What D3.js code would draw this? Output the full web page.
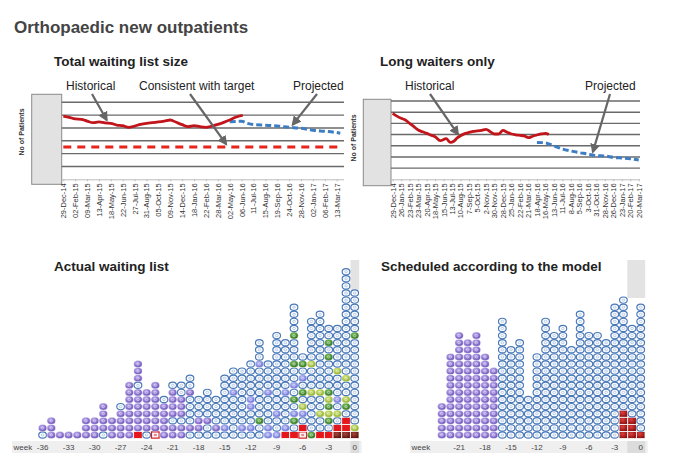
<!DOCTYPE html>
<html>
<head>
<meta charset="utf-8">
<script src="https://cdn.jsdelivr.net/npm/d3@7"></script>
<style>
  body { margin: 0; background: #fff; }
  svg { font-family: "Liberation Sans", Arial, sans-serif; }
</style>
</head>
<body>
<svg id="chart" width="687" height="472"></svg>
<script>
// ---- Data ----

// Total waiting list size (x in tick steps, 5 weeks per tick)
const totalTicks = ['29-Dec-14', '02-Feb-15', '09-Mar-15', '13-Apr-15', '18-May-15', '22-Jun-15',
    '27-Jul-15', '31-Aug-15', '05-Oct-15', '09-Nov-15', '14-Dec-15', '18-Jan-16', '22-Feb-16',
    '28-Mar-16', '02-May-16', '06-Jun-16', '11-Jul-16', '15-Aug-16', '19-Sep-16', '24-Oct-16',
    '28-Nov-16', '02-Jan-17', '06-Feb-17', '13-Mar-17'];
const totalHistorical = [[0, 4.93], [0.5, 4.83], [1, 4.70], [1.5, 4.67], [2, 4.54], [2.5, 4.41],
    [3, 4.47], [3.5, 4.39], [4, 4.36], [4.5, 4.23], [5, 4.18], [5.5, 4.05], [6, 4.15], [6.5, 4.28],
    [7, 4.36], [7.5, 4.41], [8, 4.47], [8.5, 4.54], [9, 4.62], [9.5, 4.44], [10, 4.26], [10.5, 4.10],
    [11, 4.18], [11.5, 4.10], [12, 4.05], [12.5, 4.15], [13, 4.28], [13.5, 4.44], [14, 4.62],
    [14.5, 4.83], [15.1, 4.99]];
const totalProjected = [[14, 4.49], [15, 4.52], [15.5, 4.36], [16, 4.26], [17, 4.21], [18, 4.15],
    [19, 4.05], [20, 3.97], [21, 3.82], [22, 3.74], [23, 3.64], [23.3, 3.59]];
const totalTarget = 2.51;

// Long waiters only (x in tick steps, 4 weeks per tick)
const longTicks = ['29-Dec-14', '26-Jan-15', '23-Feb-15', '23-Mar-15', '20-Apr-15', '18-May-15',
    '15-Jun-15', '13-Jul-15', '10-Aug-15', '7-Sep-15', '5-Oct-15', '2-Nov-15', '30-Nov-15',
    '28-Dec-15', '25-Jan-16', '22-Feb-16', '21-Mar-16', '18-Apr-16', '16-May-16', '13-Jun-16',
    '11-Jul-16', '8-Aug-16', '5-Sep-16', '3-Oct-16', '31-Oct-16', '28-Nov-16', '26-Dec-16',
    '23-Jan-17', '20-Feb-17', '20-Mar-17'];
const longHistorical = [[0, 5.9], [0.5, 5.65], [1, 5.45], [1.5, 5.3], [2, 5.0], [2.5, 4.7],
    [3, 4.41], [3.5, 4.25], [4, 4.11], [4.5, 3.95], [5, 3.81], [5.6, 3.45], [6.3, 3.63], [6.8, 3.3],
    [7.2, 3.4], [7.6, 3.7], [8, 3.9], [8.5, 4.08], [9, 4.2], [9.5, 4.28], [10, 4.32], [10.5, 4.38],
    [11, 4.47], [11.5, 4.25], [12, 4.05], [12.5, 4.05], [13, 4.38], [13.5, 4.2], [14, 4.05],
    [14.5, 3.98], [15, 3.93], [15.5, 3.88], [16, 3.72], [16.5, 3.85], [17, 3.96], [17.5, 4.05],
    [18, 4.11], [18.4, 4.0]];
const longProjected = [[17, 3.3], [18, 3.26], [19, 2.98], [20, 2.71], [21, 2.53], [22, 2.38],
    [23, 2.26], [24, 2.11], [25, 2.08], [26, 1.96], [27, 1.9], [28, 1.84], [29, 1.72]];

// Dot columns, bottom-up. P purple, O open blue, B periwinkle, G green, Y lime,
// R red square, r open red square, D dark red square, K shaded red square
const actualFirstWeek = -36;
const actualColumns = [
    'OP', 'PPP', 'P', 'P', 'P', 'PPP', 'PPP', 'OPPPP', 'PPP', 'PPPPO',
    'PPPPPPPP', 'RPPPPPPOPPP', 'OPPPPPP', 'rPPPPPPP', 'PPPPPO', 'PPOPPPPO', 'PPOPPPOO',
    'OPOOOOPOO', 'OPPOOO', 'OOPOOOO', 'OPOOOO', 'OBOOOOOOO', 'OOOOOOBOOO', 'OBOOOOOOOO',
    'OBOOBBOOOOO', 'OOGOOOOOOOBOOO', 'BBOOOOBOOOO', 'BOOBOOOOOOOOOOO', 'RBOOOOBOOOOOOO',
    'ROGBOGOBOOGOOOGOOOO', 'rROBYOGOBOGO', 'GOOOOOYOOOYOOOOOO', 'ROOYOOYOOOOOOOOOOO',
    'ROGYGYGOOOOGOGOO', 'DROYOBOOOYOOOOOO', 'DRROGYOOYOOOOOOOOOOOOOOO', 'DYOOOOOOOOOOOOGOOOOOO'
];
const actualTickWeeks = [-36, -33, -30, -27, -24, -21, -18, -15, -12, -9, -6, -3, 0];

const scheduledFirstWeek = -23;
const scheduledColumns = [
    'PPPPP', 'PPPPPPPPPPPP', 'PPPPPPPPPPPPPPP', 'PPPPPPPPPPPPPP', 'PPPPPPPPPPPPPPP',
    'PPPPPPPPPPPP', 'PPPPPPPPPP', 'OOOOOOOOOOOOOOOOO', 'OOOOOOOOOOOOO', 'OOOOOOOOOOOOOO',
    'OOOOOO', 'OOOOOOOOOOOO', 'OOOOOOOOOOOOOOOOO', 'OOOOOOOOOOOOOOO', 'OOOOOOOOOOOOOOOO',
    'OOOOOOOOOOOOO', 'OOOOOOOOOOOOOOOOOO', 'OOOOOOOOOOOOOOO', 'OOOOOOOOOOOOOOO',
    'OOOOOOOOOOOOOO', 'OOOOOOOOOOOOOOOOOOO', 'KKKKOOOOOOOOOOOOOOOO', 'KKKOOOOOOOOOOOOO',
    'KOOOOOOOOOOOOOOOOOO'
];
const scheduledTickWeeks = [-21, -18, -15, -12, -9, -6, -3, 0];

// ---- Drawing ----
const svg = d3.select('#chart');
const defs = svg.append('defs');

function radial(id, light, dark) {
    const g = defs.append('radialGradient').attr('id', id)
        .attr('cx', '40%').attr('cy', '35%').attr('r', '65%');
    g.append('stop').attr('offset', '0%').attr('stop-color', light);
    g.append('stop').attr('offset', '100%').attr('stop-color', dark);
}
radial('gP', '#c2b0f0', '#6b52b8');
radial('gB', '#b7bcf5', '#6d73d6');
radial('gG', '#7dc25a', '#2f7420');
radial('gY', '#d6ea7a', '#8fae2a');
radial('gK', '#e04040', '#8a0c0c');
radial('gD', '#a8453a', '#5a120c');

defs.append('marker')
    .attr('id', 'arrow')
    .attr('viewBox', '0 0 10 10')
    .attr('refX', 8).attr('refY', 5)
    .attr('markerWidth', 4.5).attr('markerHeight', 4.5)
    .attr('orient', 'auto')
    .append('path')
    .attr('d', 'M0,0 L10,5 L0,10 z')
    .attr('fill', '#666');

// Main title
svg.append('text')
    .attr('x', 14).attr('y', 33)
    .attr('font-size', '17px').attr('font-weight', 'bold')
    .attr('fill', '#444')
    .text('Orthopaedic new outpatients');

// ---- Line charts ----
function lineChart(opt) {
    const g = svg.append('g');

    g.append('text')
        .attr('x', opt.titleX).attr('y', 66)
        .attr('font-size', '13.5px').attr('font-weight', 'bold')
        .attr('fill', '#222')
        .text(opt.title);

    const x = d3.scaleLinear().domain([0, opt.ticks.length - 1]).range(opt.xRange);
    const y = d3.scaleLinear().domain([0, opt.levels]).range([179.3, opt.top]);

    // y axis box (tick labels hidden behind a grey panel)
    g.append('rect')
        .attr('x', opt.box[0]).attr('y', opt.box[1])
        .attr('width', opt.box[2]).attr('height', opt.box[3])
        .attr('fill', '#e2e2e2').attr('stroke', '#8a8a8a').attr('stroke-width', 1);

    g.append('text')
        .attr('transform', `translate(${opt.labelX},${opt.labelY}) rotate(-90)`)
        .attr('text-anchor', 'middle')
        .attr('font-size', '7px').attr('font-weight', 'bold')
        .attr('fill', '#333')
        .text('No of Patients');

    // gridlines
    g.selectAll('.grid')
        .data(d3.range(1, opt.levels + 1))
        .enter().append('line')
        .attr('x1', opt.box[0] + opt.box[2]).attr('x2', opt.plotRight)
        .attr('y1', d => y(d)).attr('y2', d => y(d))
        .attr('stroke', '#6a6a6a').attr('stroke-width', 1.4);

    // x axis
    const axis = g.append('g')
        .attr('transform', `translate(0,${y(0)})`)
        .call(d3.axisBottom(x)
            .tickValues(d3.range(opt.ticks.length))
            .tickFormat(i => opt.ticks[i])
            .tickSize(2));
    axis.select('.domain')
        .attr('d', `M${opt.box[0] + opt.box[2]},0.5H${opt.plotRight}`)
        .attr('stroke', '#bdbdbd');
    axis.selectAll('.tick line').attr('stroke', '#bdbdbd');
    axis.selectAll('.tick text')
        .attr('transform', 'rotate(-90)')
        .attr('text-anchor', 'end')
        .attr('x', -4).attr('y', 0).attr('dy', '0.32em')
        .attr('font-size', '7.5px')
        .attr('font-family', '"Liberation Sans", Arial, sans-serif')
        .attr('fill', '#333');

    const line = d3.line().x(d => x(d[0])).y(d => y(d[1])).curve(d3.curveMonotoneX);

    if (opt.target !== undefined) {
        g.append('line')
            .attr('x1', x(0)).attr('x2', x(opt.ticks.length - 1) + 3)
            .attr('y1', y(opt.target)).attr('y2', y(opt.target))
            .attr('stroke', '#e8231b').attr('stroke-width', 3)
            .attr('stroke-dasharray', '8,6');
    }

    g.append('path')
        .datum(opt.projected)
        .attr('d', line)
        .attr('fill', 'none')
        .attr('stroke', '#3d7dc4').attr('stroke-width', 3)
        .attr('stroke-dasharray', '6,3');

    g.append('path')
        .datum(opt.historical)
        .attr('d', line)
        .attr('fill', 'none')
        .attr('stroke', '#c2151b').attr('stroke-width', 2.8)
        .attr('stroke-linejoin', 'round');

    // annotations
    opt.notes.forEach(n => {
        g.append('text')
            .attr('x', n.tx).attr('y', 90)
            .attr('font-size', '12px').attr('fill', '#222')
            .text(n.text);
        g.append('line')
            .attr('x1', n.sx).attr('y1', 94)
            .attr('x2', x(n.at)).attr('y2', y(n.value) - 3)
            .attr('stroke', '#666').attr('stroke-width', 2.2)
            .attr('marker-end', 'url(#arrow)');
    });
}

lineChart({
    title: 'Total waiting list size', titleX: 54,
    ticks: totalTicks, xRange: [63.3, 336.7], plotRight: 344,
    levels: 6, top: 102.3,
    box: [31.7, 94.3, 30, 90], labelX: 24, labelY: 132,
    historical: totalHistorical, projected: totalProjected, target: totalTarget,
    notes: [
        { text: 'Historical', tx: 66, sx: 92, at: 3.65, value: 4.39 },
        { text: 'Consistent with target', tx: 139, sx: 190, at: 13.7, value: totalTarget },
        { text: 'Projected', tx: 293, sx: 317, at: 19.3, value: 4.03 }
    ]
});

lineChart({
    title: 'Long waiters only', titleX: 380,
    ticks: longTicks, xRange: [392.7, 638.7], plotRight: 640,
    levels: 7, top: 101,
    box: [363.3, 99.3, 27.7, 86.4], labelX: 356, labelY: 138,
    historical: longHistorical, projected: longProjected,
    notes: [
        { text: 'Historical', tx: 405, sx: 430, at: 7.7, value: 3.75 },
        { text: 'Projected', tx: 585, sx: 610, at: 23.6, value: 2.18 }
    ]
});

// ---- Dot charts ----
function dotChart(opt) {
    const g = svg.append('g');

    g.append('text')
        .attr('x', opt.titleX).attr('y', 271)
        .attr('font-size', '13.5px').attr('font-weight', 'bold')
        .attr('fill', '#222')
        .text(opt.title);

    const lastWeek = opt.firstWeek + opt.columns.length - 1;
    const x = d3.scaleLinear().domain([opt.firstWeek, lastWeek]).range(opt.xRange);
    const y = d3.scaleLinear().domain([0, 24]).range([435, 264.6]);

    // axis band
    g.append('rect')
        .attr('x', opt.bandLeft).attr('y', 441)
        .attr('width', x(lastWeek) + 7 - opt.bandLeft).attr('height', 12)
        .attr('fill', '#efefef');
    g.append('rect')
        .attr('x', opt.highlight[0]).attr('y', 441)
        .attr('width', x(lastWeek) + 4.5 - opt.highlight[0]).attr('height', 12)
        .attr('fill', '#dcdcdc');
    g.append('rect')
        .attr('x', opt.highlight[0]).attr('y', 260)
        .attr('width', x(lastWeek) + 4.5 - opt.highlight[0]).attr('height', opt.highlight[1])
        .attr('fill', '#e3e3e3');

    g.append('text')
        .attr('x', opt.bandLeft + 1.5).attr('y', 450)
        .attr('font-size', '8px').attr('fill', '#444')
        .text('week');
    g.selectAll('.wk')
        .data(opt.tickWeeks)
        .enter().append('text')
        .attr('x', d => x(d)).attr('y', 450)
        .attr('text-anchor', 'middle')
        .attr('font-size', '8px').attr('fill', '#444')
        .text(d => d);

    const dots = [];
    opt.columns.forEach((col, i) => {
        col.split('').forEach((c, r) => dots.push({ week: opt.firstWeek + i, row: r, code: c }));
    });

    const fills = { P: 'url(#gP)', B: 'url(#gB)', G: 'url(#gG)', Y: 'url(#gY)' };
    const squares = { R: '#e4171c', D: 'url(#gD)', K: 'url(#gK)' };

    dots.forEach(d => {
        const cx = x(d.week), cy = y(d.row);
        if (fills[d.code]) {
            g.append('ellipse')
                .attr('cx', cx).attr('cy', cy).attr('rx', 4.2).attr('ry', 3.5)
                .attr('fill', fills[d.code]).attr('stroke', '#fff').attr('stroke-width', 0.4);
            g.append('ellipse')
                .attr('cx', cx).attr('cy', cy).attr('rx', 1.3).attr('ry', 1.1)
                .attr('fill', 'none').attr('stroke', '#f2eeff').attr('stroke-width', 0.6)
                .attr('opacity', 0.8);
        } else if (d.code === 'O') {
            g.append('ellipse')
                .attr('cx', cx).attr('cy', cy).attr('rx', 3.85).attr('ry', 3.15)
                .attr('fill', '#fff').attr('stroke', '#4878b8').attr('stroke-width', 1.15);
            g.append('ellipse')
                .attr('cx', cx).attr('cy', cy).attr('rx', 1.4).attr('ry', 1.1)
                .attr('fill', 'none').attr('stroke', '#8eaedb').attr('stroke-width', 0.6);
        } else if (squares[d.code]) {
            g.append('rect')
                .attr('x', cx - 4.3).attr('y', cy - 3.55).attr('width', 8.6).attr('height', 7.1)
                .attr('fill', squares[d.code]).attr('stroke', '#fff').attr('stroke-width', 0.8);
        } else if (d.code === 'r') {
            g.append('rect')
                .attr('x', cx - 3.8).attr('y', cy - 3.1).attr('width', 7.6).attr('height', 6.2)
                .attr('fill', '#fff').attr('stroke', '#d01d22').attr('stroke-width', 1.2);
            g.append('rect')
                .attr('x', cx - 1.5).attr('y', cy - 1.2).attr('width', 3).attr('height', 2.4)
                .attr('fill', '#e88a8a');
        }
    });
}

dotChart({
    title: 'Actual waiting list', titleX: 54,
    columns: actualColumns, firstWeek: actualFirstWeek, tickWeeks: actualTickWeeks,
    xRange: [42.6, 354.7], bandLeft: 12, highlight: [350.5, 30]
});

dotChart({
    title: 'Scheduled according to the model', titleX: 381,
    columns: scheduledColumns, firstWeek: scheduledFirstWeek, tickWeeks: scheduledTickWeeks,
    xRange: [441.8, 640.7], bandLeft: 410, highlight: [627.3, 38]
});
</script>
</body>
</html>
